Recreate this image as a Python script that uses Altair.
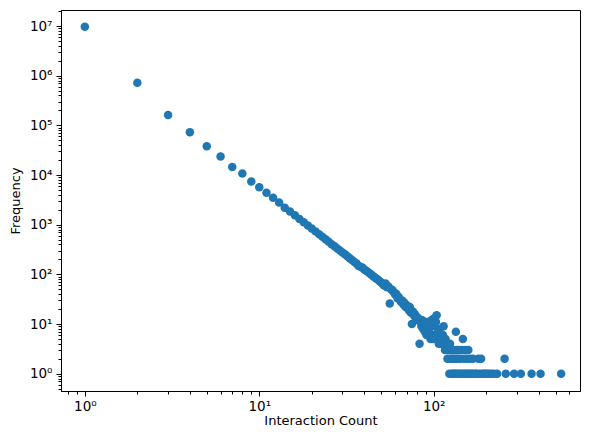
import altair as alt
import pandas as pd

# Interaction count (x) and how often it occurs (y)
counts = list(range(1, 101)) + [
    101, 102, 103, 104, 105, 106, 107, 108, 109, 110, 111, 112, 113, 114, 115, 116, 117, 118, 119, 120,
    121, 122, 123, 124, 125, 126, 127, 128, 129, 130, 131, 132, 133, 134, 135, 136, 137, 138, 140, 141,
    142, 144, 145, 147, 148, 149, 151, 152, 154, 155, 157, 158, 160, 162, 164, 166, 168, 171, 174, 177,
    180, 183, 187, 190, 194, 198, 203, 208, 214, 221, 231, 255, 259, 289, 316, 364, 410, 538]

freqs = [
    9.7e6, 7.2e5, 1.62e5, 7.3e4, 3.8e4, 2.35e4, 1.45e4, 1.07e4, 7.4e3, 5.7e3,
    4.4e3, 3.5e3, 2.8e3, 2.2e3, 1850, 1550, 1310, 1120, 964, 840,
    735, 647, 570, 508, 454, 407, 368, 333, 303, 275,
    255, 231, 211, 196, 180, 167, 150, 143, 138, 125,
    118, 112, 104, 98, 92, 87, 82, 78, 73, 69,
    64, 60, 66, 55, 57, 26, 50, 48, 44, 40,
    41, 33, 35, 31, 28, 30, 25, 27, 22, 24,
    21, 19, 22, 17, 10, 18, 15, 16, 13, 14,
    12, 13, 4, 11, 9, 12, 8, 10, 7, 9,
    6, 11, 7, 8, 6, 5, 12, 6, 5, 13,
    9, 6, 11, 15, 5, 8, 4, 7, 6, 4, 5, 4, 6, 9, 4, 3, 5, 4, 3, 2,
    4, 3, 1, 4, 2, 3, 1, 3, 2, 1, 3, 1, 2, 7, 1, 3, 2, 1, 3, 1,
    2, 1, 3, 5, 1, 2, 1, 3, 1, 2, 1, 3, 1, 2, 1, 1, 2, 1, 1, 1,
    2, 1, 2, 1, 1, 1, 1, 1, 1, 1, 1, 2, 1, 1, 1, 1, 1, 1]

df = pd.DataFrame({"count": counts, "freq": freqs})

sup = {0: "⁰", 1: "¹", 2: "²", 3: "³", 4: "⁴", 5: "⁵", 6: "⁶", 7: "⁷"}

def label_expr(powers):
    expr = "''"
    for p in reversed(powers):
        expr = f"datum.value == {10 ** p} ? '10{sup[p]}' : " + expr
    return expr

def tick_values(lo_exp, hi_exp, lo, hi):
    vals = []
    for d in range(lo_exp, hi_exp + 1):
        for k in range(1, 10):
            v = k * 10 ** d if d >= 0 else k / 10 ** (-d)
            if lo <= v <= hi:
                vals.append(v)
    return vals

x_major = [0, 1, 2]
y_major = [0, 1, 2, 3, 4, 5, 6, 7]
x_dom = [0.73, 690]
y_dom = [0.45, 2.1e7]

def major_test(powers):
    return "indexof([" + ",".join(str(10 ** p) for p in powers) + "], datum.value) >= 0"

font = "DejaVu Sans"

x_axis = alt.Axis(
    title="Interaction Count", values=tick_values(-1, 2, x_dom[0], x_dom[1]),
    labelExpr=label_expr(x_major), grid=False,
    tickSize={"condition": {"test": major_test(x_major), "value": 5}, "value": 3},
    labelFontSize=13.5, titleFontSize=13, labelFont=font, titleFont=font,
    labelColor="black", titleColor="black", titleFontWeight="normal",
    domainColor="black", tickColor="black", labelPadding=3, titlePadding=2,
    labelFlush=False, labelOverlap=False)

y_axis = alt.Axis(
    title="Frequency", values=tick_values(-1, 7, y_dom[0], y_dom[1]),
    labelExpr=label_expr(y_major), grid=False,
    tickSize={"condition": {"test": major_test(y_major), "value": 5}, "value": 3},
    labelFontSize=13.5, titleFontSize=13, labelFont=font, titleFont=font,
    labelColor="black", titleColor="black", titleFontWeight="normal",
    domainColor="black", tickColor="black", labelPadding=4, titlePadding=7,
    labelFlush=False, labelOverlap=False)

chart = alt.Chart(df).mark_circle(size=72, opacity=1, color="#1f77b4").encode(
    x=alt.X("count:Q", scale=alt.Scale(type="log", domain=x_dom, nice=False), axis=x_axis),
    y=alt.Y("freq:Q", scale=alt.Scale(type="log", domain=y_dom, nice=False), axis=y_axis),
).properties(
    width=519, height=381,
    autosize=alt.AutoSizeParams(type="none"),
    padding={"left": 53, "top": 2, "right": 1, "bottom": 39},
    background="white",
).configure_view(stroke="black", strokeWidth=1)

chart.save("out.html", embed_options={"renderer": "svg", "actions": False})
